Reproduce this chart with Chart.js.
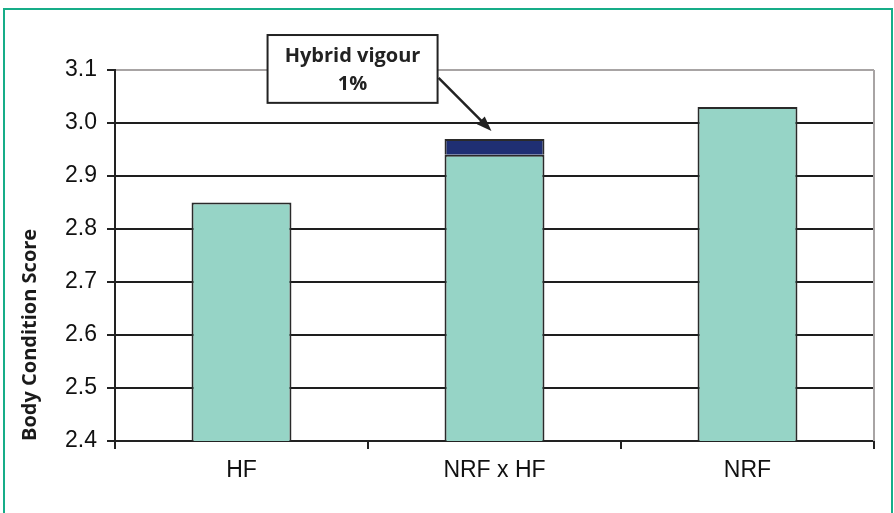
<!DOCTYPE html>
<html>
<head>
<meta charset="utf-8">
<script src="https://cdn.jsdelivr.net/npm/chart.js@4/dist/chart.umd.min.js"></script>
<style>
  html, body { margin: 0; padding: 0; background: #fff; overflow: hidden; }
  #wrap { position: relative; width: 894px; height: 513px; }
  #frame { position: absolute; left: 3px; top: 8px; width: 886px; height: 520px;
           border: 2.5px solid #16ad88; border-bottom: none; pointer-events: none; }
</style>
</head>
<body>
<div id="wrap">
  <canvas id="bcsChart" width="894" height="513"></canvas>
  <div id="frame"></div>
</div>
<script>
let breeds = ["HF", "NRF x HF", "NRF"]
let baseScore = [2.85, 2.94, 3.03]
let hybridVigour = [null, 0.03, null]
let yTicks = [2.4, 2.5, 2.6, 2.7, 2.8, 2.9, 3.0, 3.1]

let barColor = "#96d4c6"
let vigourColor = "#1f2f73"

// text box + arrow pointing at the hybrid vigour part
const annotation = {
    id: "annotation",
    afterDatasetsDraw(chart) {
        const ctx = chart.ctx
        const x = chart.scales.x
        const y = chart.scales.y
        let left = x.getPixelForValue(0.103)
        let right = x.getPixelForValue(0.775)
        let top = y.getPixelForValue(3.166)
        let bottom = y.getPixelForValue(3.038)

        ctx.save()
        ctx.fillStyle = "#fff"
        ctx.fillRect(left, top, right - left, bottom - top)
        ctx.strokeStyle = "#222"
        ctx.lineWidth = 2
        ctx.strokeRect(left, top, right - left, bottom - top)

        ctx.fillStyle = "#222"
        ctx.font = "bold 20px 'Open Sans'"
        ctx.textAlign = "center"
        ctx.textBaseline = "middle"
        let cx = (left + right) / 2
        ctx.fillText("Hybrid vigour", cx, top + 21)
        ctx.fillText("1%", cx, top + 49)

        // arrow
        let x1 = x.getPixelForValue(0.779), y1 = y.getPixelForValue(3.085)
        let x2 = x.getPixelForValue(0.988), y2 = y.getPixelForValue(2.985)
        let ang = Math.atan2(y2 - y1, x2 - x1)
        ctx.lineWidth = 2.5
        ctx.beginPath()
        ctx.moveTo(x1, y1)
        ctx.lineTo(x2 - 10 * Math.cos(ang), y2 - 10 * Math.sin(ang))
        ctx.stroke()
        ctx.beginPath()
        ctx.moveTo(x2, y2)
        ctx.lineTo(x2 - 16 * Math.cos(ang - 0.35), y2 - 16 * Math.sin(ang - 0.35))
        ctx.lineTo(x2 - 16 * Math.cos(ang + 0.35), y2 - 16 * Math.sin(ang + 0.35))
        ctx.closePath()
        ctx.fill()
        ctx.restore()
    }
}

// grey right edge of plot area
const plotEdge = {
    id: "plotEdge",
    beforeDatasetsDraw(chart) {
        const a = chart.chartArea
        const ctx = chart.ctx
        ctx.save()
        ctx.strokeStyle = "#a8a4a4"
        ctx.lineWidth = 2
        ctx.beginPath()
        ctx.moveTo(a.right, a.top)
        ctx.lineTo(a.right, a.bottom)
        ctx.stroke()
        ctx.restore()
    }
}

new Chart("bcsChart", {
    type: "bar",
    data: {
        labels: breeds,
        datasets: [{
            label: "Score",
            data: baseScore,
            backgroundColor: barColor,
            borderColor: "#2a2a2a",
            borderWidth: 2,
            barPercentage: 0.395,
            categoryPercentage: 1
        }, {
            label: "Hybrid vigour",
            data: hybridVigour,
            backgroundColor: vigourColor,
            borderColor: "#2a2a2a",
            borderWidth: 2,
            barPercentage: 0.395,
            categoryPercentage: 1
        }]
    },
    options: {
        responsive: false,
        animation: false,
        layout: { padding: { left: 0, top: 70, right: 20, bottom: 0 } },
        plugins: {
            legend: { display: false },
            tooltip: { enabled: false }
        },
        scales: {
            x: {
                stacked: true,
                grid: { drawOnChartArea: false, tickLength: 8, tickColor: "#222", lineWidth: 2 },
                border: { color: "#222", width: 2 },
                ticks: { color: "#111", font: { family: "'Liberation Sans'", size: 23 }, padding: 8 },
                afterFit(scale) { scale.height = 72 }
            },
            y: {
                stacked: true,
                min: 2.4,
                max: 3.1,
                afterBuildTicks(scale) { scale.ticks = yTicks.map(v => ({ value: v })) },
                grid: {
                    color: c => c.tick && c.tick.value === 3.1 ? "#a8a4a4" : "#1e1e1e",
                    tickColor: "#222",
                    lineWidth: 2,
                    tickLength: 8
                },
                border: { color: "#222", width: 2 },
                ticks: {
                    color: "#111",
                    font: { family: "'Liberation Sans'", size: 23 },
                    padding: 10,
                    callback: v => v.toFixed(1)
                },
                title: {
                    display: true,
                    text: "Body Condition Score",
                    align: "start",
                    color: "#1a1a1a",
                    font: { family: "'Open Sans'", size: 20, weight: "bold" },
                    padding: { top: 18, bottom: 0 }
                },
                afterFit(scale) { scale.width = 115 }
            }
        }
    },
    plugins: [plotEdge, annotation]
})
</script>
</body>
</html>
